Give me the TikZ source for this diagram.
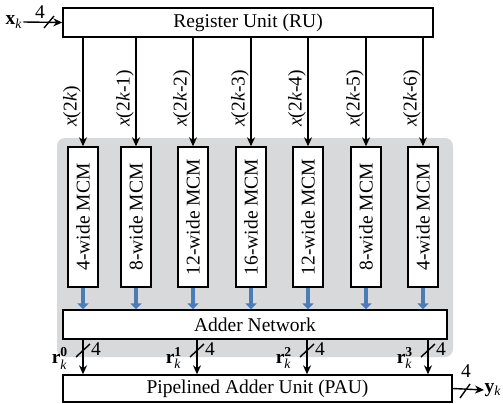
\documentclass[tikz,border=0pt]{standalone}
\usepackage{amsmath}
\usepackage{fontspec}
\setmainfont{Liberation Serif}
\usetikzlibrary{arrows.meta}
\definecolor{panel}{HTML}{D7D9DB}
\definecolor{bluearr}{HTML}{4A7CBA}
\begin{document}
\begin{tikzpicture}[x=1pt,y=-1pt,
  font=\fontsize{19.5}{21}\selectfont,
  box/.style={draw,line width=1.4pt,fill=white,inner sep=0pt},
  arr/.style={line width=1.4pt,-{Stealth[length=9pt,width=8pt]}},
  barr/.style={draw=bluearr,line width=4pt,-{Triangle[length=6pt,width=11pt]}},
  slash/.style={line width=1.4pt},
  lab/.style={inner sep=1pt}]
\useasboundingbox (0,0) rectangle (503,404);
% grey panel
\fill[panel,rounded corners=8pt] (57,138) rectangle (453,357);
% boxes
\node[box,minimum width=370pt,minimum height=29pt] (ru) at (248,22.5) {Register Unit (RU)};
\node[box,minimum width=384pt,minimum height=29pt] (an) at (255,324.5) {Adder Network};
\node[box,minimum width=389pt,minimum height=27pt] (pau) at (257.5,388.5) {Pipelined Adder Unit (PAU)};
\foreach \i/\x/\w/\lbl in {1/83/4/{\textit{x}(2\textit{k})},2/136/8/{\textit{x}(2\textit{k}-1)},3/193/12/{\textit{x}(2\textit{k}-2)},4/251/16/{\textit{x}(2\textit{k}-3)},5/308/12/{\textit{x}(2\textit{k}-4)},6/366/8/{\textit{x}(2\textit{k}-5)},7/423/4/{\textit{x}(2\textit{k}-6)}}{
  \node[box,minimum width=30pt,minimum height=140pt] (m\i) at (\x,217) {\rotatebox{90}{\w-wide MCM}};
  \draw[arr] (ru.south -| m\i) -- (m\i.north);
  \node[lab,rotate=90,anchor=south west] (xl\i) at (\x-1,128) {\lbl};
  \draw[barr] (m\i.south) -- (an.north -| m\i);
}
% input
\node[lab] (xk) at (14,22) {\textbf{x}\textsubscript{\textit{k}}};
\draw[arr] (xk.east) -- (ru.west);
\draw[slash] (44,28) -- (54,16);
\node[lab] (in4) at (40,12) {4};
% r outputs
\foreach \j/\x in {0/83,1/197,2/307,3/428}{
  \coordinate (r\j) at (\x,350);
  \draw[arr] (an.south -| r\j) -- (pau.north -| r\j);
  \draw[slash] (\x-7,357) -- (\x+7,344);
  \node[lab] (f\j) at (\x+13,349) {4};
  \node[lab,anchor=east] (rl\j) at (\x-14,358) {$\textbf{r}_{\textit{k}}^{\textbf{\j}}$};
}
% output
\coordinate (yend) at (484,390);
\draw[arr] (pau.east) -- (yend);
\draw[slash] (460,398) -- (470,384);
\node[lab] (o4) at (466,371) {4};
\node[inner sep=0.5pt,anchor=west] (yk) at (yend) {\textbf{y}\textsubscript{\textit{k}}};
\end{tikzpicture}
\end{document}
